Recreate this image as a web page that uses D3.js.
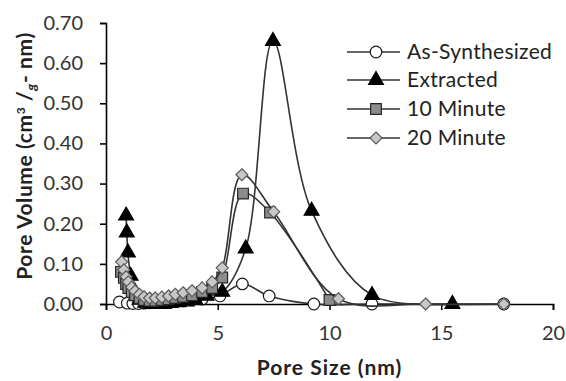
<!DOCTYPE html>
<html>
<head>
<meta charset="utf-8">
<script src="https://cdn.jsdelivr.net/npm/d3@7"></script>
<style>
  html, body { margin: 0; padding: 0; background: #fff; }
  svg text { font-family: Lato, "Open Sans", sans-serif; }
</style>
</head>
<body>
<svg id="chart" width="566" height="381"></svg>
<script>
// Pore size distribution (BJH) for the four samples
const seriesNames = ["As-Synthesized", "Extracted", "10 Minute", "20 Minute"];

const asSynX = [0.6, 0.95, 1.2, 1.45, 1.7, 1.95, 2.2, 2.5, 2.8, 3.1, 3.45, 3.85, 4.3, 5.1, 6.1, 7.3, 9.3, 11.9, 17.8];
const asSynY = [0.005, 0.002, 0.001, 0.001, 0.002, 0.003, 0.004, 0.005, 0.006, 0.007, 0.008, 0.01, 0.012, 0.02, 0.05, 0.02, 0.0, 0.0, 0.0];

const extractedX = [0.9, 0.93, 0.98, 1.1, 1.3, 1.5, 1.75, 2.0, 2.3, 2.6, 2.9, 3.25, 3.6, 4.0, 4.5, 5.2, 6.25, 7.47, 9.2, 11.9, 15.5];
const extractedY = [0.22, 0.178, 0.128, 0.07, 0.03, 0.01, 0.003, 0.0, 0.0, 0.0, 0.002, 0.004, 0.006, 0.01, 0.02, 0.03, 0.138, 0.655, 0.232, 0.022, 0.0];

const min10X = [0.67, 0.8, 0.9, 1.0, 1.15, 1.3, 1.5, 1.7, 1.95, 2.2, 2.5, 2.8, 3.1, 3.45, 3.85, 4.3, 4.75, 5.2, 6.13, 7.34, 10.0];
const min10Y = [0.08, 0.065, 0.05, 0.04, 0.03, 0.022, 0.015, 0.01, 0.008, 0.008, 0.01, 0.012, 0.015, 0.018, 0.022, 0.03, 0.04, 0.066, 0.275, 0.228, 0.01];

const min20X = [0.7, 0.8, 0.9, 1.0, 1.15, 1.3, 1.5, 1.7, 1.95, 2.2, 2.5, 2.8, 3.1, 3.45, 3.85, 4.3, 4.75, 5.2, 6.08, 7.5, 10.4, 14.3, 17.8];
const min20Y = [0.105, 0.085, 0.068, 0.055, 0.042, 0.032, 0.024, 0.018, 0.015, 0.015, 0.017, 0.02, 0.024, 0.028, 0.033, 0.04, 0.055, 0.09, 0.322, 0.23, 0.013, 0.0, 0.0];

const xTicks = [0, 5, 10, 15, 20];
const yTicks = [0, 0.1, 0.2, 0.3, 0.4, 0.5, 0.6, 0.7];

const series = [
  { name: seriesNames[0], xs: asSynX, ys: asSynY, marker: "circle", fill: "#ffffff", stroke: "#1a1a1a" },
  { name: seriesNames[1], xs: extractedX, ys: extractedY, marker: "triangle", fill: "#000000", stroke: "#000000" },
  { name: seriesNames[2], xs: min10X, ys: min10Y, marker: "square", fill: "#8c8c8c", stroke: "#262626" },
  { name: seriesNames[3], xs: min20X, ys: min20Y, marker: "diamond", fill: "#c8c8c8", stroke: "#595959" }
];

const svg = d3.select("#chart");
const plotLeft = 106, plotRight = 553, plotTop = 23, plotBottom = 304;

const x = d3.scaleLinear().domain([0, 20]).range([plotLeft, plotRight]);
const y = d3.scaleLinear().domain([0, 0.7]).range([plotBottom, plotTop]);

// axes
const xAxis = svg.append("g")
  .attr("transform", `translate(0,${plotBottom})`)
  .call(d3.axisBottom(x).tickValues(xTicks).tickSize(6).tickFormat(d3.format("d")));
const yAxis = svg.append("g")
  .attr("transform", `translate(${plotLeft},0)`)
  .call(d3.axisLeft(y).tickValues(yTicks).tickSize(6).tickFormat(d3.format(".2f")));

[xAxis, yAxis].forEach(g => {
  g.select(".domain").attr("stroke", "#000").attr("stroke-width", 1.6);
  g.selectAll(".tick line").attr("stroke", "#000").attr("stroke-width", 1.6);
  g.selectAll(".tick text").attr("fill", "#333").style("font-size", "20px");
});
xAxis.selectAll(".tick text").attr("dy", "0.71em").attr("y", 22);
yAxis.selectAll(".tick text").attr("x", -23);

// axis titles
svg.append("text")
  .attr("x", (plotLeft + plotRight) / 2).attr("y", 375)
  .attr("text-anchor", "middle")
  .style("font-size", "21px").style("font-weight", "bold")
  .style("letter-spacing", "1px").attr("fill", "#222")
  .text("Pore Size (nm)");

const yTitle = svg.append("text")
  .attr("transform", "translate(32,156) rotate(-90)")
  .attr("text-anchor", "middle")
  .style("font-size", "21px").style("font-weight", "bold")
  .style("letter-spacing", "0.6px").attr("fill", "#222");
yTitle.append("tspan").text("Pore Volume (cm");
yTitle.append("tspan").attr("dy", -7).style("font-size", "12px").text("3");
yTitle.append("tspan").attr("dy", 7).text(" /");
yTitle.append("tspan").attr("dy", 4).style("font-size", "14px").style("font-style", "italic").text("g");
yTitle.append("tspan").attr("dy", -4).text("- nm)");

// marker shapes
const diamondType = {
  draw(context, size) {
    const r = Math.sqrt(size / 2);
    context.moveTo(0, -r);
    context.lineTo(r, 0);
    context.lineTo(0, r);
    context.lineTo(-r, 0);
    context.closePath();
  }
};
const symbolFor = {
  circle: d3.symbol().type(d3.symbolCircle).size(105),
  triangle: d3.symbol().type(d3.symbolTriangle).size(95),
  square: d3.symbol().type(d3.symbolSquare).size(115),
  diamond: d3.symbol().type(diamondType).size(72)
};

const line = d3.line()
  .x(d => x(d[0]))
  .y(d => y(d[1]))
  .curve(d3.curveCatmullRom.alpha(0.5));

const plot = svg.append("g");
series.forEach(s => {
  const pts = s.xs.map((v, i) => [v, s.ys[i]]);
  const g = plot.append("g");
  g.append("path")
    .datum(pts)
    .attr("fill", "none")
    .attr("stroke", "#333")
    .attr("stroke-width", 1.6)
    .attr("d", line);
  g.selectAll("path.m")
    .data(pts)
    .join("path")
    .attr("class", "m")
    .attr("transform", d => `translate(${x(d[0])},${y(d[1])})`)
    .attr("d", symbolFor[s.marker])
    .attr("fill", s.fill)
    .attr("stroke", s.stroke)
    .attr("stroke-width", 1.2);
});

// legend
const legend = svg.append("g");
const legendY = [52, 80, 109, 138];
series.forEach((s, i) => {
  const row = legend.append("g").attr("transform", `translate(0,${legendY[i]})`);
  row.append("line").attr("x1", 347).attr("x2", 400).attr("y1", 0).attr("y2", 0)
    .attr("stroke", "#333").attr("stroke-width", 1.6);
  row.append("path")
    .attr("transform", "translate(376,0)")
    .attr("d", symbolFor[s.marker])
    .attr("fill", s.fill)
    .attr("stroke", s.stroke)
    .attr("stroke-width", 1.2);
  row.append("text")
    .attr("x", 407).attr("y", 0).attr("dy", "0.35em")
    .style("font-size", "21px").style("letter-spacing", "0.3px").attr("fill", "#222")
    .text(s.name);
});
</script>
</body>
</html>
